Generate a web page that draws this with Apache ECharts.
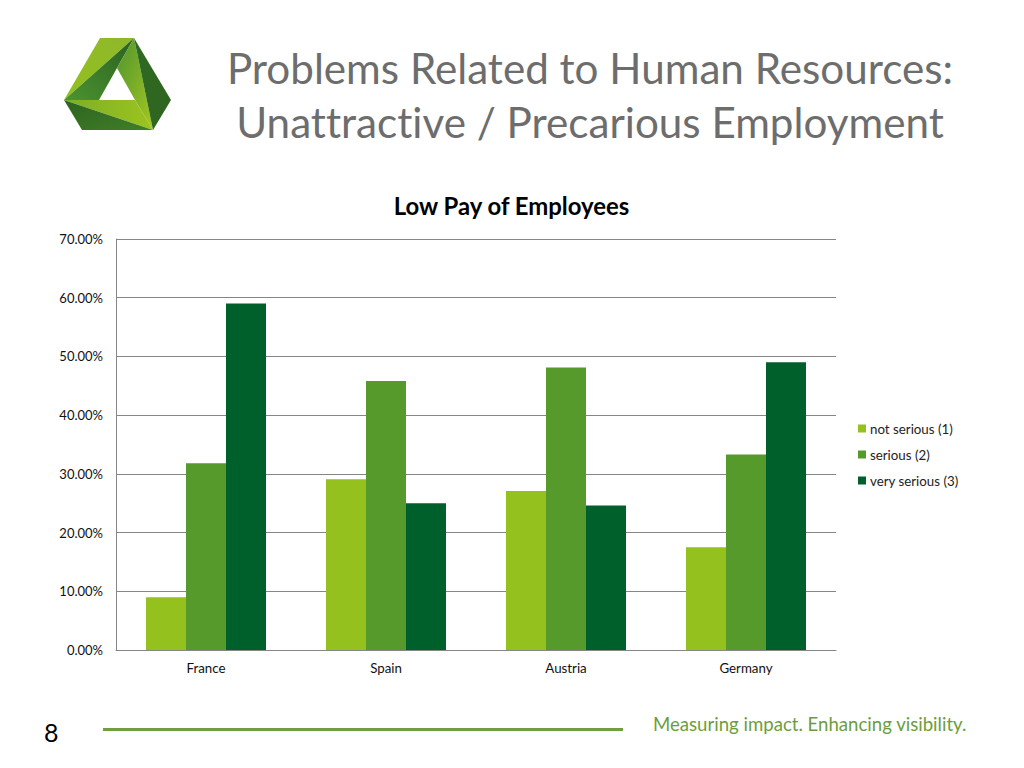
<!DOCTYPE html>
<html><head><meta charset="utf-8">
<style>html,body{margin:0;padding:0;background:#fff}#c{width:1024px;height:768px}svg text{font-variant-ligatures:none;font-feature-settings:"liga" 0}</style>
<script src="https://cdn.jsdelivr.net/npm/echarts@6/dist/echarts.min.js"></script>
</head><body><div id="c"></div>
<script>
const categories = ["France","Spain","Austria","Germany"];
const notSerious = [9.0,29.1,27.1,17.5];
const serious = [31.8,45.8,48.1,33.3];
const verySerious = [59.0,25.0,24.6,49.0];
const seriesNames = ["not serious (1)","serious (2)","very serious (3)"];
const seriesColors = ["#95c11f","#559a2a","#00602b"];
const FONT = "Lato, 'Open Sans', sans-serif";
const grad=(x,y,x2,y2,a,b)=>({type:'linear',x,y,x2,y2,colorStops:[{offset:0,color:a},{offset:1,color:b}]});
const poly=(points,fill)=>({type:'polygon',shape:{points},style:{fill}});
const chart = echarts.init(document.getElementById('c'),null,{renderer:'svg'});
const mk=(name,data,i)=>({name,type:'bar',data,barWidth:40,barGap:0,itemStyle:{color:seriesColors[i]}});
chart.setOption({
  animation:false,
  backgroundColor:'#fff',
  title:[
    {text:"Problems Related to Human Resources:",left:585,top:41,textAlign:'center',textStyle:{fontFamily:FONT,fontSize:42.2,fontWeight:'normal',color:'#6d6d6d'}},
    {text:"Unattractive / Precarious Employment",left:585,top:95,textAlign:'center',textStyle:{fontFamily:FONT,fontSize:42.2,fontWeight:'normal',color:'#6d6d6d'}},
    {text:"Low Pay of Employees",left:506.5,top:188,textAlign:'center',textStyle:{fontFamily:FONT,fontSize:23.9,fontWeight:'bold',color:'#000'}},
    {text:"Measuring impact. Enhancing visibility.",left:648,top:709,textStyle:{fontFamily:FONT,fontSize:18.6,fontWeight:'normal',color:'#6b9e3a'}},
    {text:"8",left:39,top:714,textStyle:{fontFamily:FONT,fontSize:25,fontWeight:'normal',color:'#000'}}
  ],
  grid:{left:116,top:239,width:720,height:411},
  legend:{orient:'vertical',left:853,top:416,itemWidth:8,itemHeight:8,itemGap:11,icon:'rect',
    data:seriesNames,textStyle:{fontFamily:FONT,fontSize:13.3,color:'#222',padding:[0,0,0,-1],lineHeight:15}},
  xAxis:{type:'category',data:categories,
    axisLine:{lineStyle:{color:'#868686',width:1}},axisTick:{show:false},
    axisLabel:{fontFamily:FONT,fontSize:13.3,color:'#111',margin:11},splitLine:{show:false}},
  yAxis:{type:'value',min:0,max:70,interval:10,
    axisLine:{show:true,lineStyle:{color:'#868686',width:1}},axisTick:{show:false},
    axisLabel:{fontFamily:FONT,fontSize:13,color:'#111',margin:13,formatter:v=>v.toFixed(2)+'%'},
    splitLine:{lineStyle:{color:'#868686',width:1}}},
  series:[mk(seriesNames[0],notSerious,0),mk(seriesNames[1],serious,1),mk(seriesNames[2],verySerious,2)],
  graphic:[
    {type:'line',shape:{x1:103,y1:729.5,x2:623,y2:729.5},style:{stroke:'#6f9f3f',lineWidth:3}},
    poly([[100,38],[134,38],[64,100]],grad(1,0,0,1,'#8fb82a','#93c01f')),
    poly([[134,38],[64,100],[99,100],[117,68]],grad(1,0,0,1,'#2a6020','#4c9430')),
    poly([[134,38],[117,68],[135,100],[153,130]],grad(0,0,1,1,'#4f9330','#a5c81f')),
    poly([[134,38],[171,100],[153,130]],grad(0,0,1,1,'#2f6b22','#2f6420')),
    poly([[64,100],[135,100],[153,130]],grad(0,0,1,0,'#7cae26','#9cc41f')),
    poly([[64,100],[153,130],[82,130]],grad(0,0,1,1,'#2f6220','#3f8028'))
  ]
});
</script></body></html>
